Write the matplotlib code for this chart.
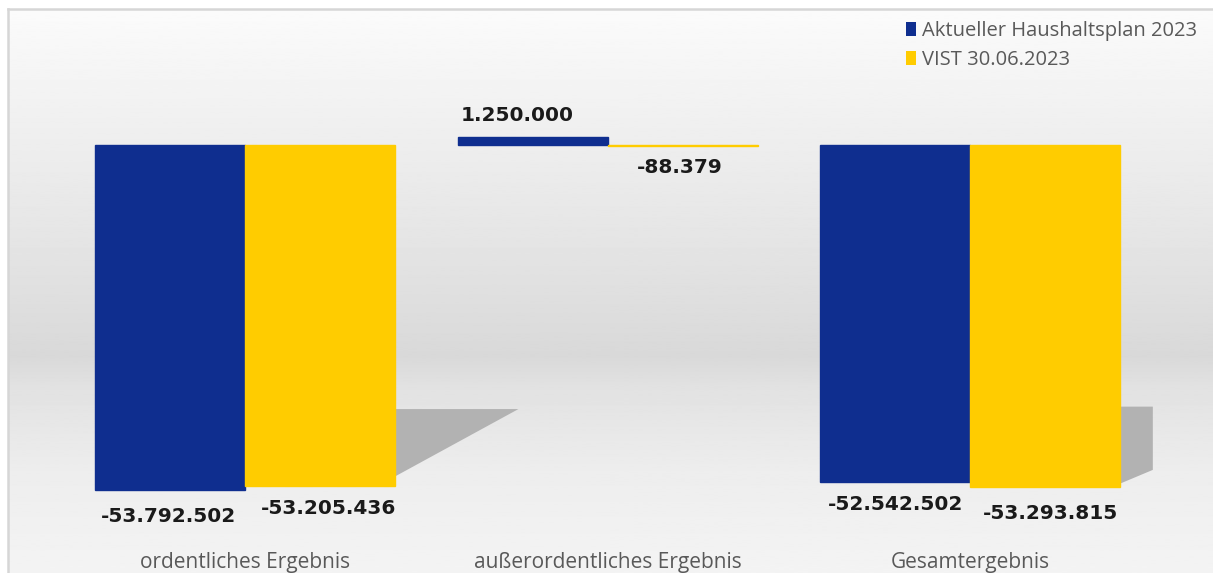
import numpy as np
import matplotlib
matplotlib.use('Agg')
import matplotlib.pyplot as plt
from matplotlib.patches import Patch, Polygon

# data
categories = ['ordentliches Ergebnis', 'außerordentliches Ergebnis', 'Gesamtergebnis']
series_names = ['Aktueller Haushaltsplan 2023', 'VIST 30.06.2023']
plan_2023 = [-53792502, 1250000, -52542502]
vist_2023 = [-53205436, -88379, -53293815]

colors = ['#0f2e8f', '#ffcc00']
plt.rcParams['font.family'] = ['Open Sans', 'DejaVu Sans']


def fmt(v):
    # german thousand separator
    s = '{:,}'.format(abs(v)).replace(',', '.')
    return ('-' if v < 0 else '') + s


fig = plt.figure(figsize=(12.13, 5.73), dpi=100, facecolor='white')
ax = fig.add_axes([8 / 1213, 0, 1 - 8 / 1213, 1 - 9 / 573])

# background gradient, 0 = bottom, 1 = top
stops_y = [0.0, 0.18, 0.33, 0.385, 0.45, 0.6, 0.8, 1.0]
stops_c = [0.955, 0.93, 0.885, 0.85, 0.865, 0.9, 0.94, 0.985]
yy = np.linspace(0, 1, 400)
grad = np.interp(yy, stops_y, stops_c)
ax.imshow(grad[:, None], extent=[0, 1, 0, 1], transform=ax.transAxes,
          cmap='gray', vmin=0, vmax=1, aspect='auto', origin='lower', zorder=0)

x = np.arange(len(categories))
w = 0.414
b1 = ax.bar(x - w / 2, plan_2023, w, color=colors[0], edgecolor=colors[0], linewidth=1, zorder=3)
b2 = ax.bar(x + w / 2, vist_2023, w, color=colors[1], edgecolor=colors[1], linewidth=1, zorder=3)

ax.set_xlim(-0.654, 2.670)
ax.set_ylim(-66.7e6, 21.2e6)

# soft drop shadows behind the big negative groups
for i, dx in [(0, 0.34), (2, 0.09)]:
    lo = min(plan_2023[i], vist_2023[i])
    top = 0.765 * lo
    xr = x[i] + w
    if i == 0:
        pts = [(xr - 0.1, top), (xr + dx, top), (xr, 0.96 * lo), (xr - 0.1, 0.96 * lo)]
    else:
        pts = [(xr - 0.1, top), (xr + dx, top), (xr + dx, 0.95 * lo), (xr, 0.99 * lo), (xr - 0.1, 0.99 * lo)]
    ax.add_patch(Polygon(pts, closed=True, facecolor='#b2b2b2', edgecolor='none', zorder=2))

# value labels
nudge = {(0, 0): (-2, -4), (0, 1): (8, 0), (1, 0): (-15, 0), (1, 1): (-3, 0),
         (2, 0): (0, 0), (2, 1): (5, -5)}
for s, bars in enumerate([b1, b2]):
    for i, r in enumerate(bars):
        v = r.get_height()
        dxp, dyp = nudge[(i, s)]
        off = 22 if v >= 0 else -22
        ax.annotate(fmt(int(v)), (r.get_x() + r.get_width() / 2, v),
                    xytext=(dxp, off + dyp), textcoords='offset pixels',
                    ha='center', va='center', fontsize=14.5, fontweight='bold',
                    family='DejaVu Sans', color='#1a1a1a', zorder=5)

# category labels
for i, c in enumerate(categories):
    ax.text(x[i], -65.0e6, c, ha='center', va='center', fontsize=15,
            color='#595959', zorder=5)

ax.set_xticks([])
ax.set_yticks([])
for sp in ['right', 'bottom']:
    ax.spines[sp].set_visible(False)
for sp in ['top', 'left']:
    ax.spines[sp].set_color('#d6d6d6')
    ax.spines[sp].set_linewidth(1.8)

handles = [Patch(facecolor=colors[0]), Patch(facecolor=colors[1])]
leg = fig.legend(handles, series_names, loc='upper left',
                 bbox_to_anchor=(888 / 1213, 1 - 3 / 573), frameon=False,
                 fontsize=14.5, handlelength=0.5, handleheight=0.7,
                 handletextpad=0.3, labelspacing=0.45)
for t in leg.get_texts():
    t.set_color('#595959')

fig.savefig('out.png', dpi=100, facecolor='white')
